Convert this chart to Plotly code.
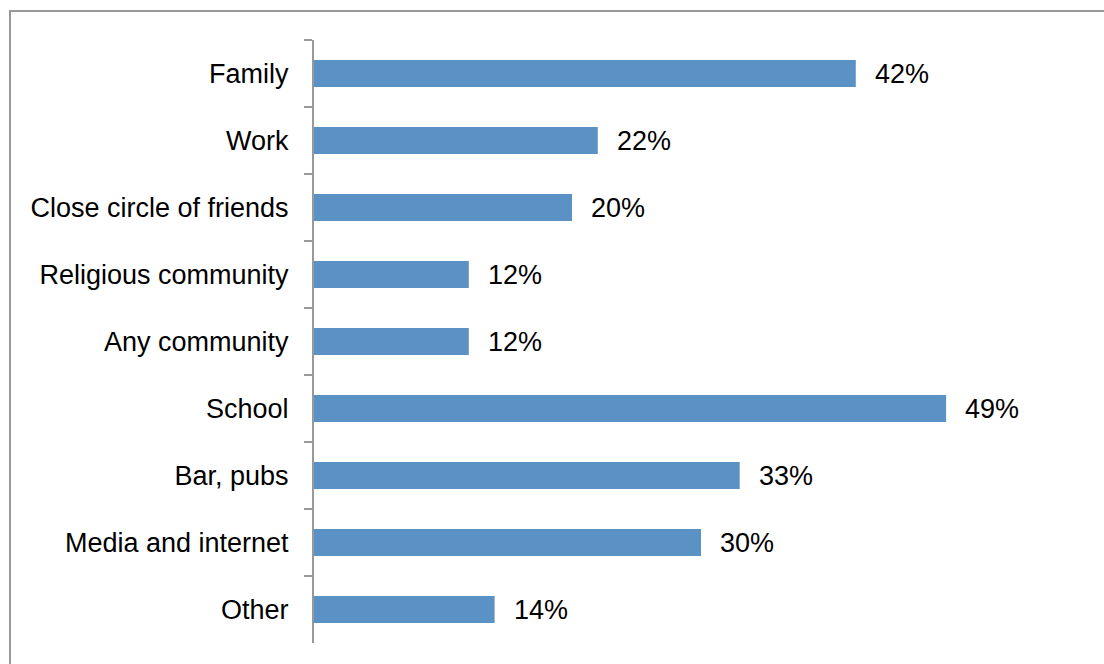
import plotly.graph_objects as go

# Survey: where people meet / find contacts
categories = [
    "Family",
    "Work",
    "Close circle of friends",
    "Religious community",
    "Any community",
    "School",
    "Bar, pubs",
    "Media and internet",
    "Other",
]
values = [42, 22, 20, 12, 12, 49, 33, 30, 14]
value_labels = ["42%", "22%", "20%", "12%", "12%", "49%", "33%", "30%", "14%"]

BAR_COLOR = "#5B92C6"
AXIS_COLOR = "#999999"
FONT = "Liberation Sans, Arial, sans-serif"
FONT_SIZE = 27

W, H = 1104, 664
M_L, M_R, M_T, M_B = 314, 16, 40, 21
plot_w = W - M_L - M_R
plot_h = H - M_T - M_B

fig = go.Figure(
    go.Bar(
        x=values,
        y=categories,
        orientation="h",
        marker=dict(color=BAR_COLOR, line=dict(width=0)),
        hoverinfo="skip",
    )
)

# value labels just right of each bar
for cat, val, lab in zip(categories, values, value_labels):
    fig.add_annotation(
        x=val, y=cat, text=lab, showarrow=False,
        xanchor="left", yanchor="middle", xshift=17,
        font=dict(family=FONT, size=FONT_SIZE, color="#000000"),
    )

# frame line around the chart area (top and left edges visible)
def px_x(px):
    return (px - M_L) / plot_w

def px_y(py):
    return (H - M_B - py) / plot_h

fig.add_shape(
    type="rect", xref="paper", yref="paper",
    x0=px_x(10), x1=px_x(W + 20), y0=px_y(H + 20), y1=px_y(11),
    line=dict(color=AXIS_COLOR, width=2), fillcolor="rgba(0,0,0,0)",
    layer="below",
)

fig.update_layout(
    width=W, height=H,
    margin=dict(l=M_L, r=M_R, t=M_T, b=M_B, pad=0),
    paper_bgcolor="white", plot_bgcolor="white",
    bargap=0.6,
    showlegend=False,
    font=dict(family=FONT, size=FONT_SIZE, color="#000000"),
    xaxis=dict(
        range=[0, 60], visible=False, showgrid=False, zeroline=False,
        fixedrange=True,
    ),
    yaxis=dict(
        autorange="reversed",
        showline=True, linecolor=AXIS_COLOR, linewidth=2,
        ticks="outside", ticklen=8, tickcolor=AXIS_COLOR, tickwidth=2,
        tickson="boundaries",
        ticklabelstandoff=18,
        showgrid=False, zeroline=False,
        tickfont=dict(family=FONT, size=FONT_SIZE, color="#000000"),
        fixedrange=True,
    ),
)

fig.write_html("out.html")
